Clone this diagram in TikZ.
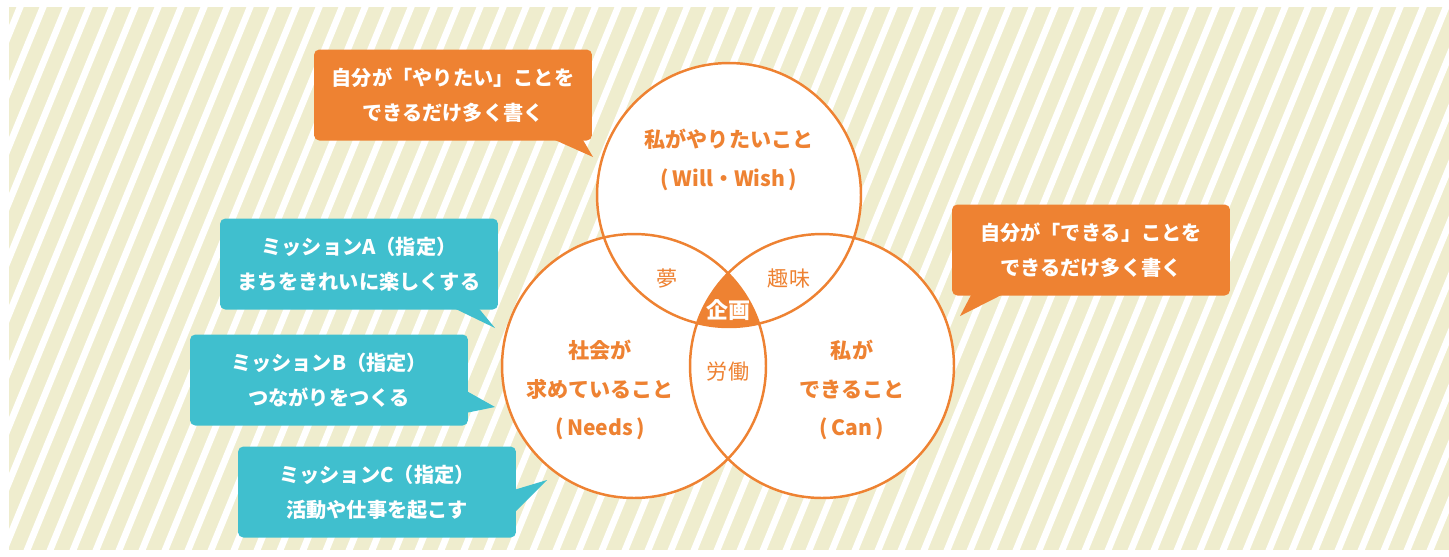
\documentclass[tikz,border=0pt]{standalone}
\usepackage{fontspec}
\setmainfont{Noto Sans CJK JP}
\definecolor{venorange}{RGB}{238, 130, 50}
\definecolor{missionteal}{RGB}{64, 191, 206}
\definecolor{stripecream}{RGB}{239, 237, 206}
\usetikzlibrary{calc}
\tikzset{
  ring/.style={circle, fill=white, minimum size=5.28cm, inner sep=0pt},
  callout/.style={rectangle, fill=#1, rounded corners=3pt, minimum width=5.56cm, minimum height=1.82cm, text=white, align=center, font=\bfseries\fontsize{11.5}{20}\selectfont},
  circlelabel/.style={text=venorange, align=center, font=\bfseries\fontsize{12}{22}\selectfont},
  zonelabel/.style={text=#1, font=\fontsize{12}{14}\selectfont},
  stripe/.style={white, line width=3.8pt},
}

\begin{document}
\begin{tikzpicture}[x=0.02cm, y=-0.02cm]
\useasboundingbox (0,0) rectangle (1449,556);

% Background stripes
\begin{scope}
  \clip (9,7) rectangle (1449,550);
  \fill[stripecream] (9,7) rectangle (1449,550);
  \foreach \s in {-10,...,63}
    \draw[stripe] ({\s*23},560) -- ++(230,-560);
\end{scope}

% Circles
\node[ring] (will) at (729,195) {};
\node[ring] (needs) at (634,366) {};
\node[ring] (can) at (822,366) {};
\begin{scope}
  \clip (will.center) circle (2.64cm);
  \clip (needs.center) circle (2.64cm);
  \fill[venorange] (can.center) circle (2.64cm);
\end{scope}
\foreach \c in {will,needs,can}
  \draw[venorange, line width=1.4pt] (\c.center) circle (2.64cm);

% Circle labels
\node[circlelabel] (willtext) at (729,160) {私がやりたいこと\\(\,Will・Wish\,)};
\node[circlelabel] (needstext) at (600,390) {社会が\\求めていること\\(\,Needs\,)};
\node[circlelabel] (cantext) at (852,390) {私が\\できること\\(\,Can\,)};
\node[zonelabel=venorange] (dream) at (667,278) {夢};
\node[zonelabel=venorange] (hobby) at (789,278) {趣味};
\node[zonelabel=venorange] (labor) at (728,372) {労働};
\node[zonelabel=white, font=\bfseries\fontsize{12.5}{14}\selectfont] (plan) at (728,310) {企画};

% Orange notes
\node[callout=venorange] (wishnote) at (453,95) {自分が「やりたい」ことを\\できるだけ多く書く};
\coordinate (wishtip) at (593,157);
\fill[venorange] ($(wishnote.south east)+(-40,-2)$) -- (wishtip) -- ($(wishnote.south east)+(-10,-2)$) -- cycle;

\node[callout=venorange] (cannote) at (1091,250) {自分が「できる」ことを\\できるだけ多く書く};
\coordinate (cantip) at (960,316);
\fill[venorange] ($(cannote.south west)+(20,-2)$) -- (cantip) -- ($(cannote.south west)+(52,-2)$) -- cycle;

% Mission notes
\node[callout=missionteal] (missiona) at (359,264) {ミッションA（指定）\\まちをきれいに楽しくする};
\coordinate (tipa) at (495,328);
\fill[missionteal] ($(missiona.south east)+(-45,-2)$) -- (tipa) -- ($(missiona.south east)+(-20,-2)$) -- cycle;

\node[callout=missionteal] (missionb) at (329,380) {ミッションB（指定）\\つながりをつくる};
\coordinate (tipb) at (495,407);
\fill[missionteal] ($(missionb.south east)+(-2,-35)$) -- (tipb) -- ($(missionb.south east)+(-2,-13)$) -- cycle;

\node[callout=missionteal] (missionc) at (377,492) {ミッションC（指定）\\活動や仕事を起こす};
\coordinate (tipc) at (547,480);
\fill[missionteal] ($(missionc.south east)+(-2,-48)$) -- (tipc) -- ($(missionc.south east)+(-2,-25)$) -- cycle;
\end{tikzpicture}
\end{document}
